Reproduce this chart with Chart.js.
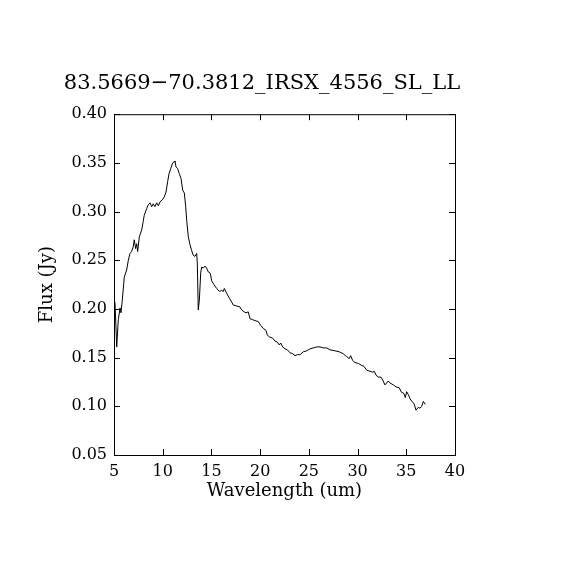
<!DOCTYPE html>
<html>
<head>
<meta charset="utf-8">
<script src="https://cdn.jsdelivr.net/npm/chart.js@4/dist/chart.umd.min.js"></script>
<style>
  html, body { margin: 0; padding: 0; background: #fff; }
  #box { width: 570px; height: 570px; }
</style>
</head>
<body>
<div id="box"><canvas id="myChart"></canvas></div>
<script>
var title = "83.5669\u221270.3812_IRSX_4556_SL_LL";

// spectrum
var wavelength = [
  5.10, 5.28, 5.44, 5.62, 5.72, 5.85, 6.06, 6.30, 6.47, 6.64, 6.81, 6.98, 7.08, 7.22, 7.33, 7.43,
  7.60, 7.84, 8.00, 8.10, 8.35, 8.52, 8.70, 8.87, 9.03, 9.20, 9.38, 9.55, 9.72, 9.96, 10.16, 10.34,
  10.51, 10.65, 10.82, 11.02, 11.16, 11.26, 11.36, 11.54, 11.70, 11.88, 12.05, 12.22, 12.36, 12.46,
  12.63, 12.80, 12.97, 13.14, 13.31, 13.49, 13.55, 13.65, 13.76, 13.90, 14.00, 14.17, 14.34, 14.50,
  14.68, 14.85, 14.92, 15.02, 15.26, 15.54, 15.81, 16.05, 16.22, 16.32, 16.57, 16.84, 17.08, 17.25,
  17.59, 17.93, 18.10, 18.37, 18.55, 18.78, 18.96, 19.23, 19.47, 19.81, 20.06, 20.32, 20.60, 20.74,
  21.00, 21.29, 21.52, 21.76, 21.97, 22.11, 22.32, 22.55, 22.79, 23.06, 23.34, 23.58, 23.81, 24.09,
  24.43, 24.78, 25.12, 25.46, 25.80, 26.14, 26.48, 26.83, 27.17, 27.68, 28.12, 28.53, 28.88, 29.15,
  29.29, 29.50, 29.74, 30.08, 30.43, 30.66, 30.94, 31.28, 31.56, 31.72, 31.89, 32.13, 32.40, 32.58,
  32.81, 32.99, 33.15, 33.33, 33.67, 33.94, 34.29, 34.46, 34.77, 34.90, 35.04, 35.21, 35.38, 35.56,
  35.79, 36.00, 36.23, 36.41, 36.58, 36.75, 36.95
];
var flux = [
  0.207, 0.161, 0.189, 0.201, 0.196, 0.209, 0.233, 0.240, 0.250, 0.257, 0.259, 0.264, 0.271, 0.262, 0.267, 0.259,
  0.274, 0.281, 0.290, 0.296, 0.303, 0.307, 0.309, 0.305, 0.308, 0.305, 0.309, 0.306, 0.310, 0.312, 0.315, 0.320,
  0.331, 0.339, 0.344, 0.350, 0.351, 0.352, 0.346, 0.344, 0.339, 0.334, 0.322, 0.319, 0.305, 0.291,
  0.274, 0.266, 0.260, 0.255, 0.254, 0.257, 0.247, 0.199, 0.209, 0.237, 0.243, 0.242, 0.244, 0.242,
  0.238, 0.237, 0.235, 0.229, 0.225, 0.221, 0.218, 0.219, 0.218, 0.221, 0.216, 0.211, 0.207, 0.204,
  0.203, 0.202, 0.199, 0.197, 0.196, 0.197, 0.190, 0.189, 0.188, 0.187, 0.183, 0.180, 0.178, 0.173,
  0.171, 0.170, 0.167, 0.166, 0.163, 0.165, 0.161, 0.159, 0.158, 0.155, 0.154, 0.152, 0.153, 0.153,
  0.156, 0.157, 0.159, 0.160, 0.161, 0.161, 0.160, 0.160, 0.158, 0.157, 0.156, 0.154, 0.151, 0.149,
  0.152, 0.147, 0.145, 0.144, 0.142, 0.141, 0.137, 0.136, 0.135, 0.136, 0.132, 0.130, 0.130, 0.127,
  0.122, 0.124, 0.126, 0.124, 0.122, 0.120, 0.119, 0.115, 0.113, 0.109, 0.115, 0.112, 0.108, 0.105,
  0.103, 0.096, 0.099, 0.098, 0.100, 0.105, 0.102
];

var xTicks = [5, 10, 15, 20, 25, 30, 35, 40];
var yTicks = [0.05, 0.10, 0.15, 0.20, 0.25, 0.30, 0.35, 0.40];

var serif = "'DejaVu Serif', 'Liberation Serif', serif";

var points = wavelength.map(function (w, i) { return { x: w, y: flux[i] }; });

// box round the plot with inward ticks on all four sides
var frameTicks = {
  id: "frameTicks",
  afterDraw: function (chart) {
    var c = chart.ctx, a = chart.chartArea;
    var sx = chart.scales.x, sy = chart.scales.y;
    var len = 6;
    c.save();
    c.strokeStyle = "#000";
    c.lineWidth = 1;
    c.strokeRect(a.left + 0.5, a.top + 0.5, a.right - a.left, a.bottom - a.top);
    c.beginPath();
    xTicks.forEach(function (t) {
      var px = Math.round(sx.getPixelForValue(t)) + 0.5;
      c.moveTo(px, a.bottom); c.lineTo(px, a.bottom - len);
      c.moveTo(px, a.top); c.lineTo(px, a.top + len);
    });
    yTicks.forEach(function (t) {
      var py = Math.round(sy.getPixelForValue(t)) + 0.5;
      c.moveTo(a.left, py); c.lineTo(a.left + len, py);
      c.moveTo(a.right, py); c.lineTo(a.right - len, py);
    });
    c.stroke();
    c.restore();
  }
};

new Chart(document.getElementById("myChart"), {
  type: "scatter",
  data: {
    datasets: [{
      data: points,
      showLine: true,
      borderColor: "#000",
      borderWidth: 1,
      pointRadius: 0,
      tension: 0
    }]
  },
  options: {
    responsive: true,
    maintainAspectRatio: false,
    animation: false,
    devicePixelRatio: 1,
    layout: { padding: { left: 0, right: 46, top: 0, bottom: 55 } },
    plugins: {
      legend: { display: false },
      tooltip: { enabled: false },
      title: {
        display: true,
        text: title,
        color: "#000",
        font: { family: serif, size: 21, weight: "normal", lineHeight: 1.2 },
        padding: { top: 71, bottom: 18 }
      }
    },
    scales: {
      x: {
        type: "linear",
        min: 5, max: 40,
        afterBuildTicks: function (s) { s.ticks = xTicks.map(function (v) { return { value: v }; }); },
        afterFit: function (s) { s.height = 60; },
        grid: { display: false, drawTicks: false, tickLength: 0 },
        border: { display: false },
        ticks: {
          color: "#000",
          padding: 7,
          maxRotation: 0,
          font: { family: serif, size: 16 },
          callback: function (v) { return String(v); }
        },
        title: {
          display: true,
          text: "Wavelength (um)",
          color: "#000",
          font: { family: serif, size: 18 },
          padding: { top: 0, bottom: 13 }
        }
      },
      y: {
        type: "linear",
        min: 0.05, max: 0.40,
        afterBuildTicks: function (s) { s.ticks = yTicks.map(function (v) { return { value: v }; }); },
        afterFit: function (s) { s.width = 114; },
        grid: { display: false, drawTicks: false, tickLength: 0 },
        border: { display: false },
        ticks: {
          color: "#000",
          padding: 7,
          font: { family: serif, size: 16 },
          callback: function (v) { return v.toFixed(2); }
        },
        title: {
          display: true,
          text: "Flux (Jy)",
          color: "#000",
          font: { family: serif, size: 18 },
          padding: { top: 37, bottom: 0 }
        }
      },
      // empty right-hand strip, keeps the plot box where it is
      y2: {
        type: "linear",
        position: "right",
        min: 0.05, max: 0.40,
        afterFit: function (s) { s.width = 69; },
        grid: { display: false, drawTicks: false },
        border: { display: false },
        ticks: { display: false }
      }
    }
  },
  plugins: [frameTicks]
});
</script>
</body>
</html>
